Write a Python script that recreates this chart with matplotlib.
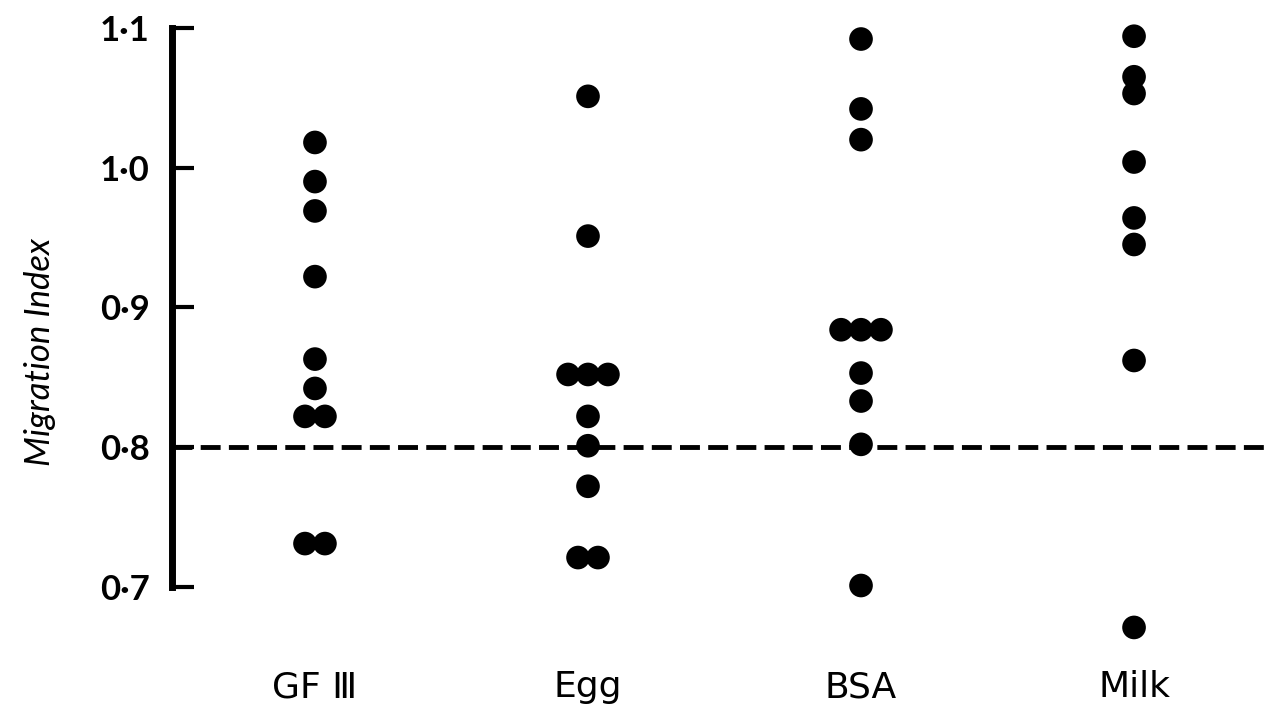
import matplotlib
matplotlib.use("Agg")
import matplotlib.pyplot as plt
import numpy as np

categories = ["GF Ⅲ", "Egg", "BSA", "Milk"]
gf3 = [1.018, 0.990, 0.969, 0.922, 0.863, 0.842, 0.822, 0.822, 0.731, 0.731]
egg = [1.051, 0.951, 0.852, 0.852, 0.852, 0.822, 0.801, 0.772, 0.721, 0.721]
bsa = [1.092, 1.042, 1.020, 0.884, 0.884, 0.884, 0.853, 0.833, 0.802, 0.701]
milk = [1.094, 1.065, 1.053, 1.004, 0.964, 0.945, 0.862, 0.671]
series = [gf3, egg, bsa, milk]
yticks = [0.7, 0.8, 0.9, 1.0, 1.1]
yticklabels = ["0·7", "0·8", "0·9", "1·0", "1·1"]
threshold = 0.8

fig = plt.figure(figsize=(12.64, 7.14), dpi=100)
ax = fig.add_axes([0.136, 0.178, 0.864, 0.783])
ax.set_ylim(0.7, 1.1)
ax.set_xlim(0.476, 4.476)

spacing = 0.073
for i, vals in enumerate(series, start=1):
    vals = np.array(vals)
    xs = np.zeros_like(vals)
    for v in np.unique(vals):
        idx = np.where(vals == v)[0]
        n = len(idx)
        xs[idx] = i + (np.arange(n) - (n - 1) / 2) * spacing
    ax.scatter(xs, vals, s=290, color="black", zorder=3, clip_on=False, edgecolors="none")

ax.axhline(threshold, color="black", lw=3.5, ls=(0, (4.1, 1.7)), zorder=2)

for s in ["top", "right", "bottom"]:
    ax.spines[s].set_visible(False)
ax.spines["left"].set_linewidth(5)
ax.spines["left"].set_bounds(0.7, 1.1)
ax.set_yticks(yticks)
ax.set_yticklabels(yticklabels, fontsize=25, fontweight="bold", family=["Lato", "DejaVu Sans"])
ax.tick_params(axis="y", direction="in", length=16, width=3, pad=16)
ax.set_xticks([1, 2, 3, 4])
ax.set_xticklabels(categories, fontsize=26, family=["DejaVu Sans"])
ax.tick_params(axis="x", length=0, pad=60)
ax.set_ylabel("Migration Index", fontsize=25, style="italic", family=["Lato", "DejaVu Sans"])
ax.yaxis.set_label_coords(-0.121, 0.42)
ax.yaxis.label.set_verticalalignment("center")

fig.savefig("out.png", dpi=100)
